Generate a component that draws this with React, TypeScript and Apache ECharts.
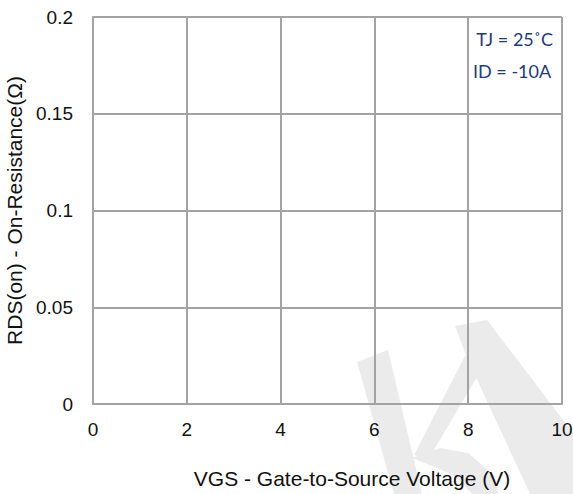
import React, { useEffect, useRef } from "react";
import * as echarts from "echarts";

const xTicks = [0, 2, 4, 6, 8, 10];
const yTicks = [0, 0.05, 0.1, 0.15, 0.2];
const xName = "VGS - Gate-to-Source Voltage (V)";
const yName = "RDS(on) - On-Resistance(Ω)";
const conditions = ["TJ = 25˚C", "ID = -10A"];

const wm = "#ebebeb";

export default function App() {
  const ref = useRef<HTMLDivElement>(null);
  useEffect(() => {
    if (!ref.current) return;
    const chart = echarts.init(ref.current, undefined, { renderer: "svg" });
    const font = "'Liberation Sans', Arial, sans-serif";
    const gridColor = "#a3a3a3";
    chart.setOption({
      animation: false,
      grid: { left: 93, top: 17, width: 469, height: 387, containLabel: false, outerBoundsMode: "none" },
      xAxis: {
        type: "value",
        min: xTicks[0],
        max: xTicks[xTicks.length - 1],
        interval: xTicks[1] - xTicks[0],
        axisLine: { show: true, lineStyle: { color: gridColor, width: 2 } },
        axisTick: { show: false },
        splitLine: { show: true, lineStyle: { color: gridColor, width: 2 } },
        axisLabel: { color: "#111", fontSize: 19, fontFamily: font, margin: 16 },
      },
      yAxis: {
        type: "value",
        min: yTicks[0],
        max: yTicks[yTicks.length - 1],
        interval: yTicks[1] - yTicks[0],
        name: yName,
        nameLocation: "middle",
        nameGap: 67,
        nameTextStyle: { color: "#111", fontSize: 21, fontFamily: font },
        axisLine: { show: true, lineStyle: { color: gridColor, width: 2 } },
        axisTick: { show: false },
        splitLine: { show: true, lineStyle: { color: gridColor, width: 2 } },
        axisLabel: { color: "#111", fontSize: 19, fontFamily: font, margin: 20 },
      },
      series: [],
      graphic: [
        { type: "polygon", z: -10, shape: { points: [[357, 362], [388, 350], [422, 494], [394, 494]] }, style: { fill: wm } },
        { type: "polygon", z: -10, shape: { points: [[455, 326], [487, 320], [573, 433], [573, 494], [530, 494], [467, 358]] }, style: { fill: wm } },
        { type: "polygon", z: -10, shape: { points: [[466, 354], [480, 372], [428, 460], [414, 455]] }, style: { fill: wm } },
        { type: "polygon", z: -10, shape: { points: [[412, 458], [440, 448], [468, 453], [495, 476], [498, 494], [472, 494], [455, 476], [432, 466]] }, style: { fill: wm } },
        {
          type: "text", x: 553, y: 39,
          style: { text: conditions[0], fill: "#1f3a78", fontSize: 18, fontFamily: "Lato, 'Open Sans', sans-serif", align: "right", verticalAlign: "middle" },
        },
        {
          type: "text", x: 473, y: 71,
          style: { text: conditions[1], fill: "#1f3a78", fontSize: 18, fontFamily: "Lato, 'Open Sans', sans-serif", align: "left", verticalAlign: "middle" },
        },
        {
          type: "text", x: 352, y: 478,
          style: { text: xName, fill: "#111", fontSize: 21, fontFamily: font, align: "center", verticalAlign: "middle" },
        },
      ],
    });
    return () => chart.dispose();
  }, []);
  return <div ref={ref} style={{ width: 573, height: 494, position: "absolute", left: 0, top: 0, background: "#fff" }} />;
}
